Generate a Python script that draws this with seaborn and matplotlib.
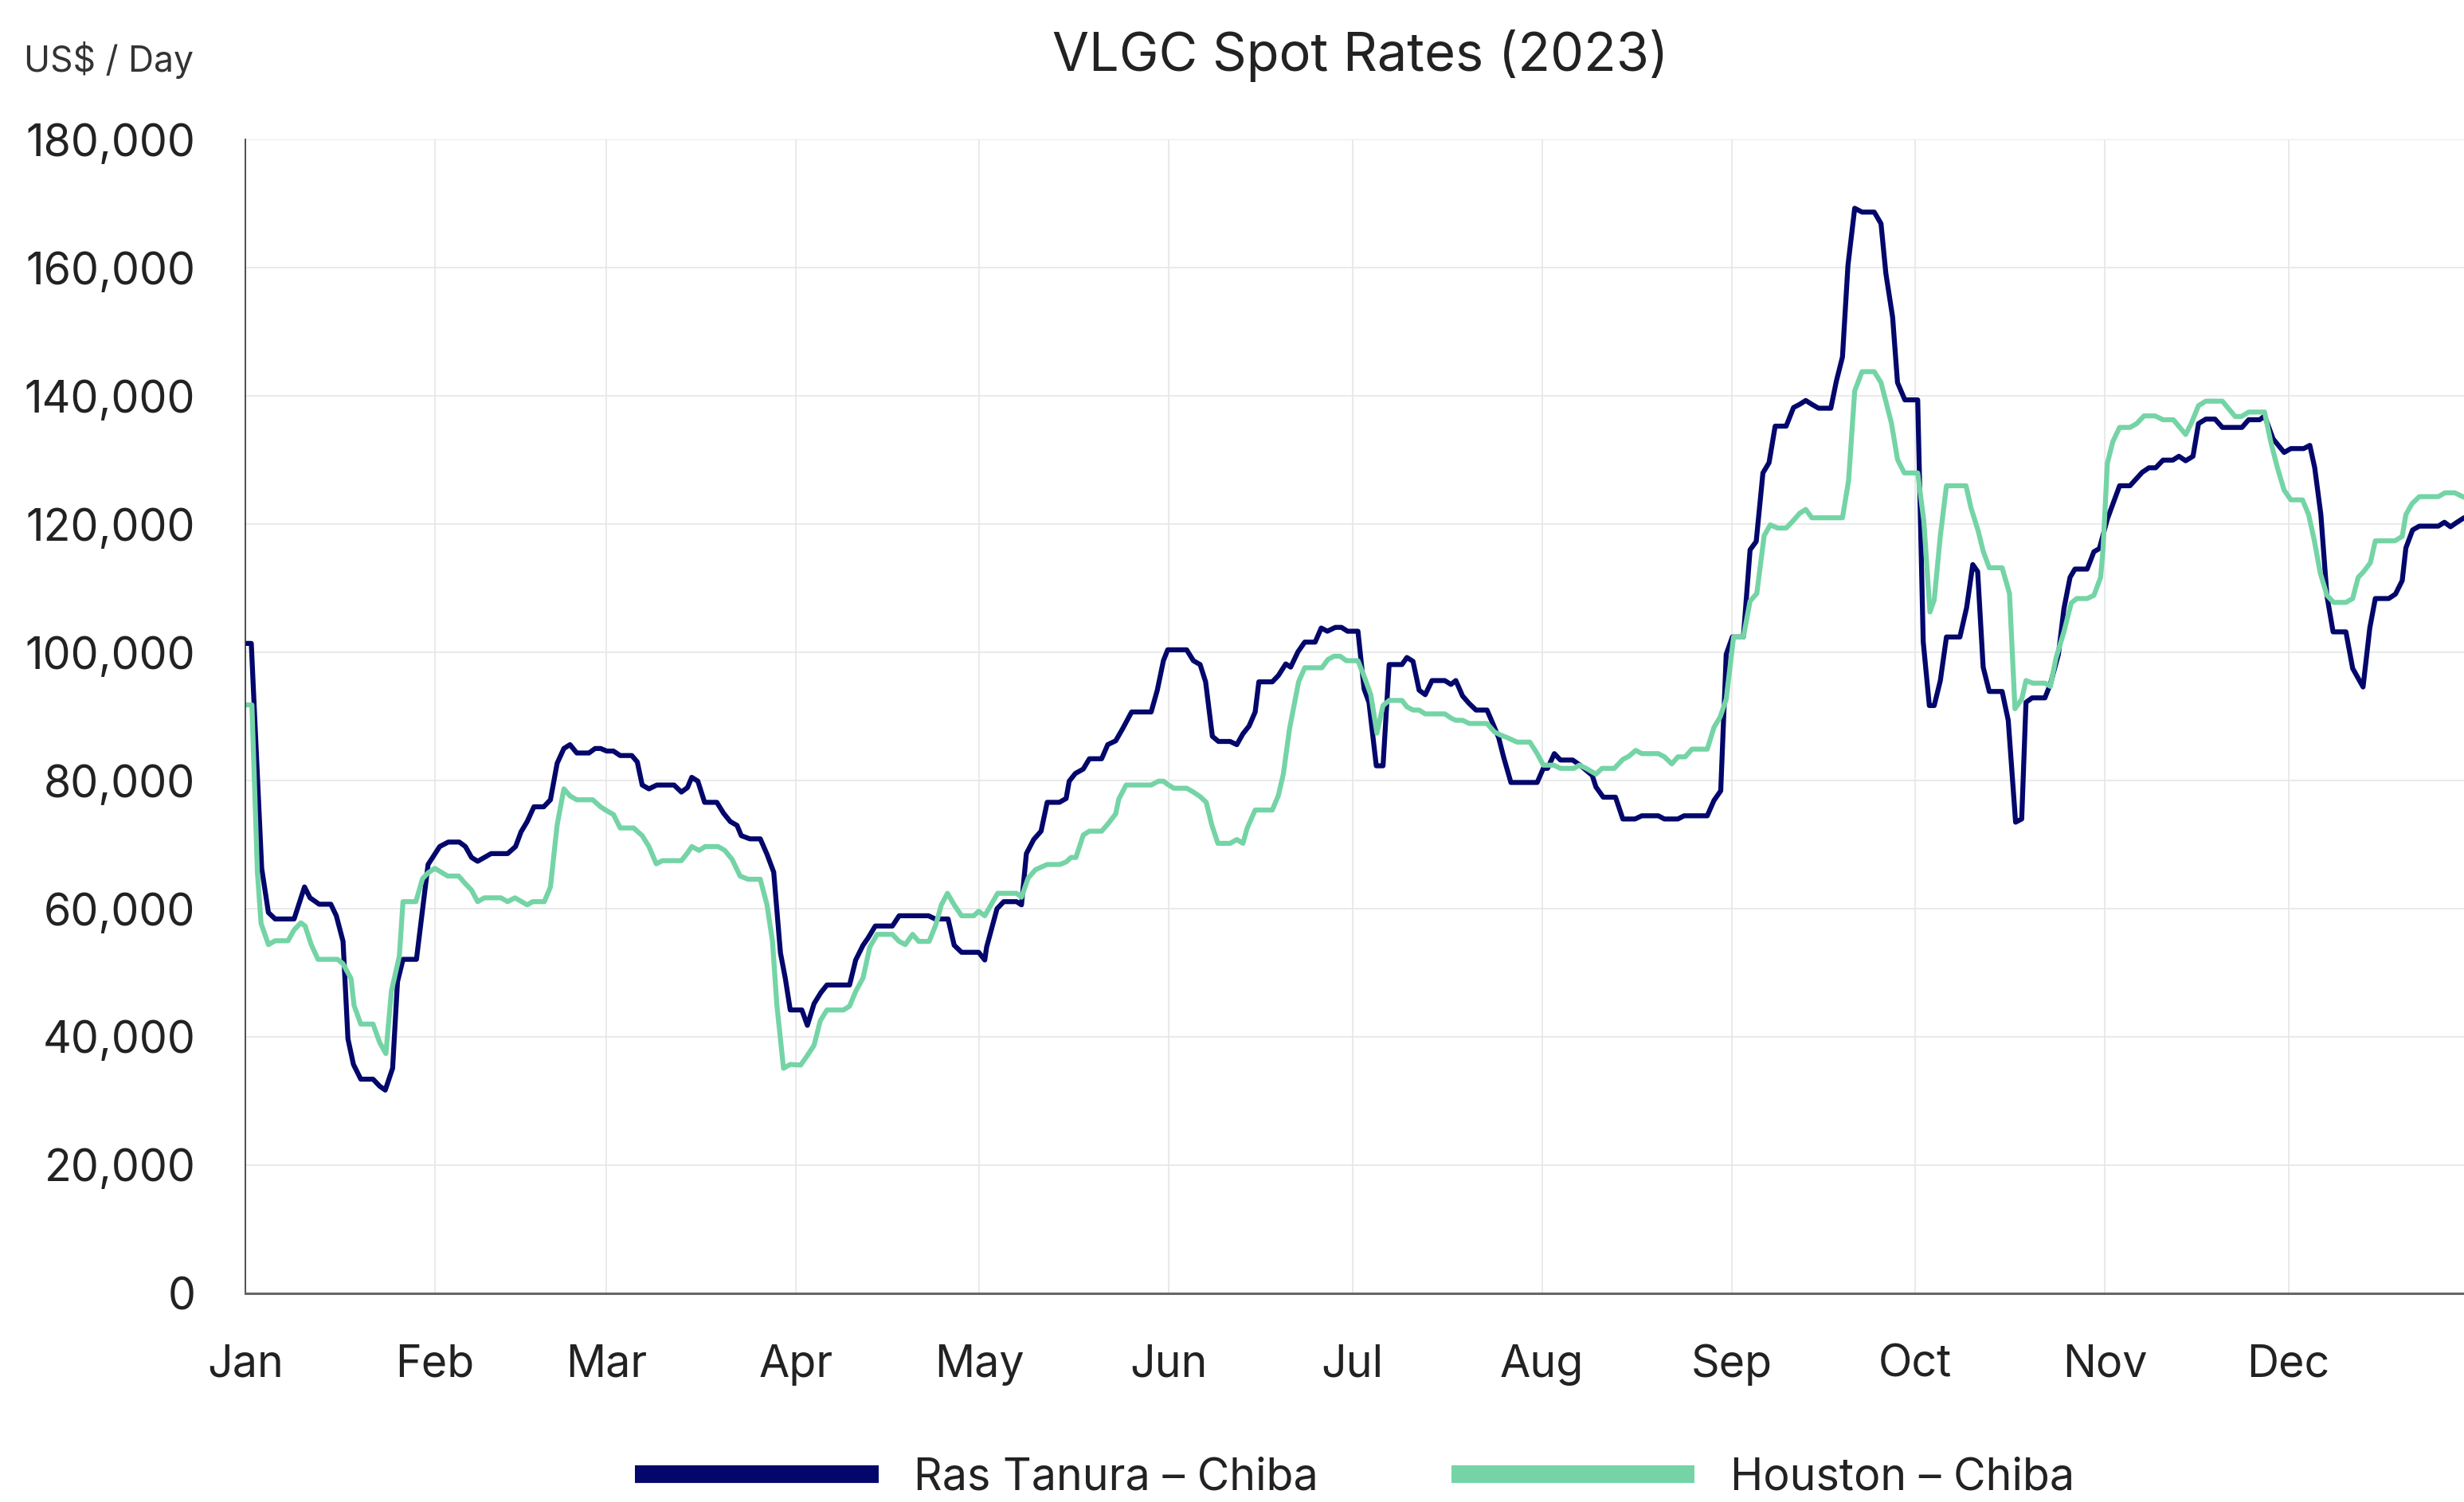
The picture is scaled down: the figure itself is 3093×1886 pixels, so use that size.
import pandas as pd
import seaborn as sns
import matplotlib.pyplot as plt
import matplotlib.dates as mdates
from matplotlib.ticker import FuncFormatter

# days since 1 Jan 2023 and rates in thousand US$/day
ras_days = [0, 1, 2.7, 3.8, 4.9, 8, 9.7, 10.6, 12.1, 14, 14.9, 16, 16.8, 17.7, 18.9, 20.9, 22, 22.9,
            24.1, 24.9, 25.8, 28, 29.9, 31.8, 33.2, 35, 36, 37, 38, 40.2, 42.9, 44.2, 45.1, 46.1,
            47.2, 48.8, 49.9, 51, 52.1, 53.1, 54.2, 56.2, 57.2, 58.1, 59.1, 60.2, 61.3, 63.2, 64.1,
            64.9, 66, 67.3, 70.1, 71.3, 72.3, 73, 74, 75.1, 77.1, 78.2, 79.3, 80.4, 81.1, 82.5, 84.2,
            85.3, 86.4, 86.9, 87.5, 88.3, 89.1, 91, 91.9, 93, 94.1, 95.1, 98.8, 99.8, 101, 101.8, 103,
            105.8, 106.9, 111.7, 112.8, 114.9, 115.9, 117.1, 119.9, 120.9, 121.2, 122.9, 124, 126.1,
            126.9, 127.7, 128.9, 130.1, 131.1, 133.1, 134.2, 134.7, 135.7, 137, 138, 140, 141, 142.3,
            143.5, 144.9, 148.1, 149.1, 150.1, 150.8, 153.9, 155, 156.1, 157, 158.1, 159.1, 161,
            162.1, 163.1, 164.1, 165.1, 165.7, 167.9, 168.9, 170.1, 170.9, 172.1, 173.2, 174.9,
            175.9, 176.9, 178.2, 179.2, 180.2, 181.9, 182.9, 183.7, 184.9, 186, 187, 189.1, 189.9,
            190.9, 191.9, 192.9, 194, 196.1, 197.1, 197.9, 199, 200.1, 201.2, 203, 203.9, 204.9,
            205.7, 206.9, 211.2, 212.2, 212.9, 214, 215, 217, 218.2, 220.2, 220.8, 222, 224, 225.2,
            227.2, 228.3, 231, 232, 234.2, 235.2, 239, 240.1, 241.2, 242.1, 243.1, 244.9, 246, 247,
            248.1, 249.1, 250.1, 251.9, 253.1, 254.1, 255.1, 256.1, 257.2, 259.2, 260.1, 261.1, 262,
            263.1, 264.3, 266.3, 267.4, 268.2, 269.3, 270.1, 271.3, 273.4, 274.3, 275.3, 276.1,
            277.1, 278.1, 280.3, 281.4, 282.4, 283.2, 284.1, 285.1, 287.2, 288.2, 289.4, 290.4,
            291.1, 292.1, 294.2, 295.1, 296.4, 297.3, 298.3, 299.1, 301.1, 302.2, 303.1, 304.4,
            306.4, 308.1, 310.1, 311.2, 312.3, 313.5, 315.1, 316.1, 317.2, 318.4, 319.3, 320.5, 322,
            323.2, 326.4, 327.5, 329.3, 330.1, 331.5, 333.3, 334.4, 336.5, 337.5, 338.3, 339.3,
            340.3, 341.3, 343.4, 344.5, 346.2, 347.3, 348.2, 350.4, 351.5, 352.6, 353.2, 354.3,
            355.4, 358.5, 359.5, 360.5, 361.4, 362.7]
ras_vals = [101.4, 101.4, 66.3, 59.4, 58.4, 58.4, 63.4, 61.7, 60.7, 60.7, 58.9, 54.9, 39.7, 35.7,
            33.4, 33.4, 32.3, 31.7, 35.1, 48.6, 52.1, 52.1, 66.9, 69.7, 70.4, 70.4, 69.7, 68, 67.4,
            68.6, 68.6, 69.7, 72, 73.6, 75.9, 75.9, 77, 82.7, 85, 85.6, 84.3, 84.3, 85, 85, 84.6,
            84.6, 83.9, 83.9, 82.9, 79.3, 78.7, 79.3, 79.3, 78.2, 78.9, 80.5, 79.9, 76.6, 76.6, 74.9,
            73.6, 73, 71.4, 70.9, 70.9, 68.5, 65.7, 60, 53.1, 49.1, 44.2, 44.2, 41.8, 45.2, 46.9,
            48.1, 48.1, 52, 54.3, 55.4, 57.3, 57.3, 58.9, 58.9, 58.4, 58.4, 54.3, 53.2, 53.2, 52, 54,
            60, 61.1, 61.1, 60.6, 68.6, 70.8, 72.1, 76.6, 76.6, 77.2, 79.9, 81.1, 81.8, 83.4, 83.4,
            85.6, 86.2, 88.2, 90.7, 90.7, 94.1, 98.7, 100.4, 100.4, 98.7, 98.1, 95.4, 86.9, 86.1,
            86.1, 85.6, 87.3, 88.5, 90.7, 95.4, 95.4, 96.4, 98.2, 97.7, 100.1, 101.6, 101.6, 103.8,
            103.3, 103.9, 103.9, 103.3, 103.3, 94.3, 92.2, 82.3, 82.3, 98.1, 98.1, 99.2, 98.6, 94.1,
            93.4, 95.6, 95.6, 95, 95.6, 93.2, 92, 91, 91, 89, 86.7, 83.7, 79.7, 79.7, 81.9, 81.9,
            84.2, 83.2, 83.2, 82.4, 80.8, 79, 77.4, 77.4, 74, 74, 74.5, 74.5, 74, 74, 74.5, 74.5,
            76.9, 78.4, 99.7, 102.4, 102.4, 116, 117.3, 128, 129.6, 135.3, 135.3, 138.2, 138.7,
            139.3, 138.7, 138.1, 138.1, 142.3, 146.1, 160.4, 169.3, 168.7, 168.7, 166.9, 159.1,
            152.3, 142.1, 139.4, 139.4, 101.7, 91.7, 91.7, 95.6, 102.4, 102.4, 107, 113.7, 112.6,
            97.7, 93.9, 93.9, 89.4, 73.5, 74, 92.2, 92.9, 92.9, 95.1, 99.7, 106.8, 111.7, 113, 113,
            115.7, 116.2, 120.8, 126, 126, 128.1, 128.8, 128.8, 130, 130, 130.6, 129.9, 130.6, 135.7,
            136.4, 136.4, 135.1, 135.1, 136.3, 136.3, 136.9, 133.3, 131.2, 131.8, 131.8, 132.3,
            128.8, 121.5, 108.8, 103.2, 103.2, 97.5, 94.6, 103.8, 108.4, 108.4, 109.1, 111.2, 116.3,
            119.1, 119.7, 119.7, 120.3, 119.6, 120.2, 121]

hou_days = [0, 1.1, 2, 2.6, 3.8, 4.9, 7, 8, 9.1, 9.8, 10.8, 11.9, 15.1, 16, 17.3, 17.8, 18.9, 20.9,
            22, 23, 23.9, 25.2, 25.8, 27.9, 29, 29.9, 31, 33.1, 34.9, 35.9, 37, 38, 39.1, 41.8, 42.9,
            44.1, 46.1, 47, 48.9, 49.9, 51, 52.1, 53.1, 54.2, 56.8, 58.1, 58.9, 60.2, 61.3, 63.5,
            64.9, 66, 67.2, 68.2, 71.3, 72.3, 73, 74.2, 75.2, 77.3, 78.4, 79.6, 80.9, 82.2, 84.2,
            85.3, 86.2, 86.9, 88, 89.1, 90.8, 91.9, 93, 94, 95.1, 97.8, 98.8, 99.8, 101, 102.1, 103.3,
            105.8, 106.9, 107.9, 109.1, 110.1, 111.8, 112.9, 113.8, 114.8, 115.9, 117.1, 119.1,
            119.9, 120.9, 121.8, 123, 126.1, 126.9, 128, 129.2, 131.1, 133.2, 134.2, 135, 135.8, 137,
            138, 140, 141, 142.3, 142.8, 144, 148.1, 149.3, 150.1, 150.8, 151.8, 153.9, 155, 156.1,
            157.1, 158, 159, 161, 162.1, 163.1, 163.8, 165.1, 167.9, 168.9, 169.7, 170.7, 172.2,
            173.2, 176, 177, 178, 179, 180, 181.9, 182.9, 184, 185, 186, 187, 189.1, 189.9, 190.9,
            191.9, 192.9, 196.1, 197.2, 197.9, 199, 200.1, 203, 204.2, 205.2, 206.3, 207.9, 210,
            211.2, 212.2, 213.9, 215, 217.2, 218.1, 219.2, 220.8, 221.8, 223.8, 225.2, 226.2, 227.3,
            228.3, 231, 232, 233.2, 234.2, 235.4, 236.5, 239, 240.1, 241.1, 242.1, 243.3, 244.9, 246,
            247.1, 248.3, 249.3, 250.5, 251.9, 253, 254.1, 255.1, 256.1, 261.1, 262.1, 263.1, 264.3,
            266.3, 267.4, 269.1, 270.1, 271.2, 273.4, 274.4, 275.4, 276.1, 277.1, 278.1, 281.3,
            282.1, 283.3, 284.1, 285.1, 287.2, 288.4, 289.3, 290.4, 291.1, 292.2, 294.2, 295.1, 296,
            297.3, 298.5, 299.4, 301.1, 302.2, 303.3, 303.7, 304.4, 305.3, 306.4, 308.1, 309.2,
            310.4, 312.2, 313.5, 315.2, 317.2, 318.1, 319.3, 320.5, 323.2, 325.3, 326.3, 327.5,
            330.1, 331.1, 332.2, 333.3, 334.4, 336.3, 337.3, 338.2, 339.2, 340.3, 341.4, 343.4,
            344.5, 345.4, 346.3, 347.4, 348.2, 351.4, 352.6, 353.2, 354.2, 355.4, 358.5, 359.6,
            361.2, 362.7]
hou_vals = [91.8, 91.8, 65.7, 57.7, 54.4, 55, 55, 56.7, 57.8, 57.3, 54.4, 52.1, 52.1, 51.4, 49.1,
            44.9, 42, 42, 39.1, 37.4, 47.1, 52.6, 61.1, 61.1, 64.7, 65.6, 66.3, 65.1, 65.1, 64, 62.9,
            61.1, 61.7, 61.7, 61.1, 61.7, 60.6, 61.1, 61.1, 63.4, 73.1, 78.7, 77.6, 77, 77, 75.9,
            75.4, 74.7, 72.6, 72.6, 71.4, 69.7, 67, 67.5, 67.5, 68.7, 69.7, 69.1, 69.7, 69.7, 69.1,
            67.7, 65.1, 64.6, 64.6, 60.6, 54.9, 45.1, 35.1, 35.7, 35.6, 37.1, 38.7, 42.5, 44.2, 44.2,
            44.8, 47.1, 49.2, 54, 56, 56, 54.9, 54.4, 56, 54.9, 54.9, 57.5, 60.6, 62.4, 60.6, 58.9,
            58.9, 59.6, 58.9, 60.4, 62.4, 62.4, 61.8, 64.8, 66.1, 66.9, 66.9, 67.3, 68, 68, 71.5,
            72.1, 72.1, 73.2, 74.8, 77.1, 79.3, 79.3, 79.9, 79.9, 79.4, 78.8, 78.8, 78.2, 77.5, 76.6,
            73.1, 70.2, 70.2, 70.8, 70.2, 72.6, 75.4, 75.4, 77.7, 81, 88, 95.4, 97.6, 97.6, 98.9,
            99.4, 99.4, 98.7, 98.7, 96.3, 93.4, 87.4, 91.7, 92.5, 92.5, 91.5, 91, 91, 90.4, 90.4,
            89.7, 89.4, 89.4, 88.9, 88.9, 87.6, 87.1, 86.7, 86, 86, 84.2, 82.4, 82.4, 81.9, 81.9,
            82.4, 81.9, 81, 81.9, 81.9, 83.3, 83.8, 84.7, 84.2, 84.2, 83.7, 82.6, 83.7, 83.7, 84.9,
            84.9, 88.3, 89.9, 92.7, 102.4, 102.4, 108, 109.2, 118.2, 119.9, 119.4, 119.4, 120.5,
            121.7, 122.3, 121, 121, 126.8, 140.8, 143.8, 143.8, 142.1, 135.8, 130.1, 128, 128, 120.5,
            106.3, 108.2, 118.2, 126, 126, 122.6, 118.9, 115.8, 113.2, 113.2, 109.2, 91.2, 92.7,
            95.6, 95.2, 95.2, 94.7, 99.1, 103.2, 107.7, 108.4, 108.4, 108.9, 111.7, 116.2, 129.5,
            132.9, 135.1, 135.1, 135.7, 136.9, 136.9, 136.3, 136.3, 134, 135.7, 138.5, 139.2, 139.2,
            136.8, 136.8, 137.5, 137.5, 132.9, 128.8, 125.3, 123.8, 123.8, 121.5, 117.6, 112.4,
            108.9, 107.8, 107.8, 108.4, 111.7, 112.6, 114, 117.4, 117.4, 118.1, 121.5, 123.2, 124.3,
            124.3, 124.9, 124.9, 124.2]

routes = ["Ras Tanura – Chiba", "Houston – Chiba"]
colors = ["#03076b", "#74d4a6"]

start = pd.Timestamp("2023-01-01")
df = pd.concat([
    pd.DataFrame({"date": start + pd.to_timedelta(ras_days, unit="D"),
                  "rate": [v * 1000 for v in ras_vals], "route": routes[0]}),
    pd.DataFrame({"date": start + pd.to_timedelta(hou_days, unit="D"),
                  "rate": [v * 1000 for v in hou_vals], "route": routes[1]}),
], ignore_index=True)

sns.set_theme(style="white")
plt.rcParams["font.family"] = ["Inter", "DejaVu Sans"]

fig = plt.figure(figsize=(30.93, 18.86), dpi=100)
ax = fig.add_axes([0.0995, 0.139, 0.9005, 0.768])

sns.lineplot(data=df, x="date", y="rate", hue="route", hue_order=routes,
             palette=colors, linewidth=4.5, estimator=None, sort=False, ax=ax)

ax.set_ylim(0, 180000)
ax.set_xlim(df["date"].min(), df["date"].max())
ax.set_yticks(range(0, 180001, 20000))
ax.yaxis.set_major_formatter(FuncFormatter(lambda v, p: f"{v:,.0f}"))
ax.xaxis.set_major_locator(mdates.MonthLocator())
ax.xaxis.set_major_formatter(mdates.DateFormatter("%b"))
ax.set_xlabel("")
ax.set_ylabel("")

ax.grid(True, color="#e6e6e6", linewidth=1.2)
ax.set_axisbelow(True)
for s in ["top", "right"]:
    ax.spines[s].set_visible(False)
ax.spines["left"].set_color("#333333")
ax.spines["left"].set_linewidth(1.2)
ax.spines["bottom"].set_color("#666666")
ax.spines["bottom"].set_linewidth(2.2)

ax.tick_params(axis="x", length=38, width=1.2, color="#333333", pad=8,
               labelsize=40, labelcolor="#222222")
ax.tick_params(axis="y", length=23, width=1.6, color="#555555", pad=22,
               labelsize=40, labelcolor="#222222")

fig.text(0.0096, 0.96, "US$ / Day", fontsize=32, va="center", color="#333333")
fig.text(0.552, 0.963, "VLGC Spot Rates (2023)", ha="center", va="center",
         fontsize=48, color="#222222")

sns.move_legend(ax, "center", bbox_to_anchor=(0.5, -0.160), ncol=2, frameon=False,
                title=None, fontsize=40, handlelength=5.5, columnspacing=3.0,
                handletextpad=0.8, borderpad=0.2)
for line in ax.get_legend().get_lines():
    line.set_linewidth(16)
    line.set_solid_capstyle("butt")
for t in ax.get_legend().get_texts():
    t.set_color("#222222")

fig.savefig("out.png", dpi=100)
